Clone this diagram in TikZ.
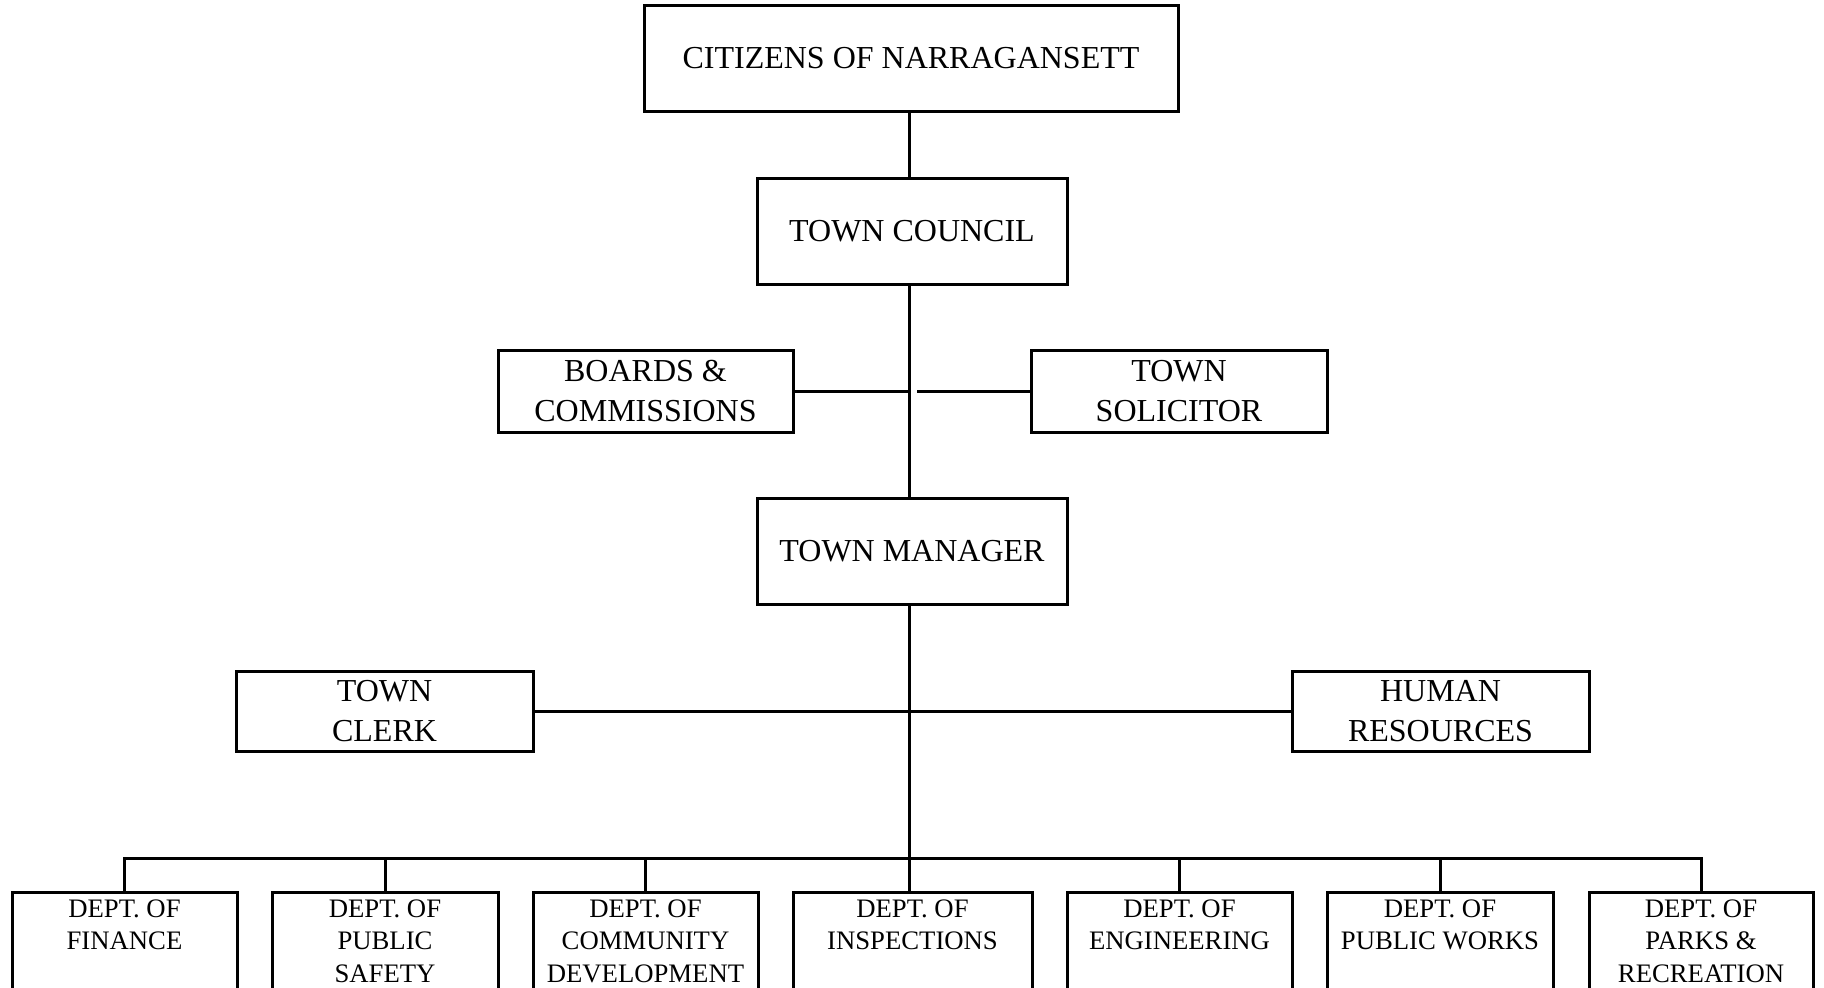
\documentclass[tikz,border=0pt]{standalone}
\usepackage{fontspec}
\setmainfont{Liberation Serif}
\usetikzlibrary{positioning}

\tikzset{
  unit/.style={draw, line width=3pt, shape=rectangle, align=center, inner sep=0pt, outer sep=0pt,
    font=\fontsize{32}{39.5}\selectfont},
  dept/.style={draw, line width=3pt, shape=rectangle, anchor=north, minimum height=150,
    inner sep=0pt, outer sep=0pt},
  depttext/.style={align=center, inner xsep=0pt, inner ysep=7.5pt,
    font=\fontsize{26.7}{32.5}\selectfont},
  link/.style={line width=3pt}
}

\begin{document}
\begin{tikzpicture}[x=1pt,y=-1pt]
\useasboundingbox (0,0) rectangle (1824,988);
\clip (0,0) rectangle (1824,988);

\draw node (cit) at (911,58) [unit, minimum width=534, minimum height=106]{CITIZENS OF NARRAGANSETT};
\draw node (coun) at (912,231) [unit, minimum width=310, minimum height=106]{TOWN COUNCIL};
\draw node (brd) at (645.5,391) [unit, minimum width=295, minimum height=82]{BOARDS \&\\COMMISSIONS};
\draw node (sol) at (1179,391) [unit, minimum width=296, minimum height=82]{TOWN\\SOLICITOR};
\draw node (mgr) at (912,551) [unit, minimum width=310, minimum height=106]{TOWN MANAGER};
\draw node (clk) at (384.5,711) [unit, minimum width=297, minimum height=80]{TOWN\\CLERK};
\draw node (hr) at (1440.5,711) [unit, minimum width=297, minimum height=80]{HUMAN\\RESOURCES};

% departments
\foreach \n/\x/\w/\t in {1/124.5/225/{DEPT. OF\\FINANCE},
    2/385/226/{DEPT. OF\\PUBLIC\\SAFETY},
    3/645.5/225/{DEPT. OF\\COMMUNITY\\DEVELOPMENT},
    4/912.5/239/{DEPT. OF\\INSPECTIONS},
    5/1179.5/225/{DEPT. OF\\ENGINEERING},
    6/1440/226/{DEPT. OF\\PUBLIC WORKS},
    7/1701/224/{DEPT. OF\\PARKS \&\\RECREATION}}
{
  \draw node (d\n) at (\x,892) [dept, minimum width=\w]{};
  \node (dt\n) [depttext, below=0pt of d\n.north] {\t};
}

\coordinate (gap) at (917,391);
\coordinate (bus) at (909,858);

\draw[link] (cit.south -| bus) -- (coun.north -| bus)
  (coun.south -| bus) -- (mgr.north -| bus)
  (brd) -- (brd -| bus)
  (sol) -- (gap)
  (clk) -- (hr)
  (mgr.south -| bus) -- (d4.north -| bus);
\draw[link] (d1.north) |- (bus -| d7.north) -- (d7.north);
\foreach \n in {2,3,5,6}
  \draw[link] (d\n.north) -- (d\n.north |- bus);
\end{tikzpicture}
\end{document}
